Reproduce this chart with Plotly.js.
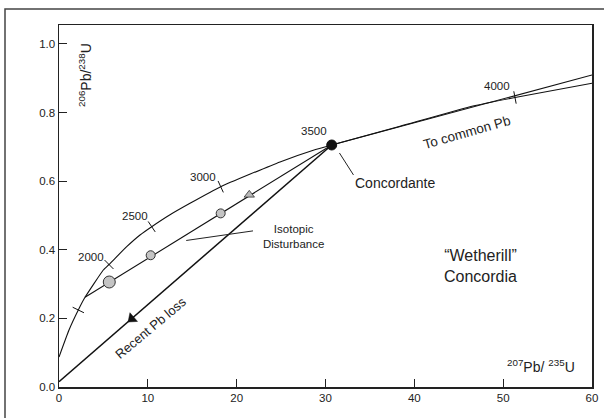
<!DOCTYPE html>
<html>
<head>
<meta charset="utf-8">
<script src="https://cdn.plot.ly/plotly-3.0.1.min.js"></script>
<style>html,body{margin:0;padding:0;background:#fff;}#chart{width:604px;height:418px;}</style>
</head>
<body>
<div id="chart"></div>
<script>
// Concordia curve (207Pb/235U, 206Pb/238U)
const concordiaX = [0, 1.126, 2.173, 2.927, 4.987, 5.629, 7.621, 9.119, 10.436, 12.496, 14.747, 18.203, 24.879, 28.628, 30.70, 38.39, 46.61, 51.33, 60];
const concordiaY = [0.0874, 0.1661, 0.2244, 0.2614, 0.341, 0.357, 0.4089, 0.443, 0.4672, 0.502, 0.5354, 0.5838, 0.656, 0.690, 0.7053, 0.7598, 0.819, 0.8438, 0.8852];

// Age ticks on concordia (Ma)
const tickAges = [1500, 2000, 2500, 3000, 4000];
const tickX = [2.173, 5.629, 10.436, 18.203, 51.33];
const tickY = [0.2244, 0.357, 0.4672, 0.5838, 0.8438];
const labelAges = ["2000", "2500", "3000", "3500", "4000"];
const labelX = [3.61, 8.51, 16.23, 28.75, 49.27];
const labelY = [0.379, 0.499, 0.612, 0.746, 0.878];

// Concordant point (3500 Ma)
const concordantX = [30.70];
const concordantY = [0.7053];

// Discordia (isotopic disturbance) line and samples
const discordiaX = [2.927, 30.70];
const discordiaY = [0.2614, 0.7053];
const samplesBigX = [5.66];
const samplesBigY = [0.306];
const samplesX = [10.32, 18.20];
const samplesY = [0.384, 0.506];
const disturbArrowX = [21.42];
const disturbArrowY = [0.560];

// Recent Pb loss line
const pbLossX = [0, 30.70];
const pbLossY = [0.0154, 0.7053];
const pbLossArrowX = [8.2];
const pbLossArrowY = [0.199];

// To common Pb line
const commonPbX = [30.70, 60];
const commonPbY = [0.7053, 0.9094];

const xRange = [0, 60];
const yRange = [0, 1.055];
const yTicks = [0, 0.2, 0.4, 0.6, 0.8, 1.0];
const xTicks = [0, 10, 20, 30, 40, 50, 60];

const M = {l: 59, r: 12, t: 25, b: 31};
const W = 604, H = 418;
const xs = (W - M.l - M.r) / (xRange[1] - xRange[0]);
const ys = (H - M.t - M.b) / (yRange[1] - yRange[0]);

// tick orientation perpendicular to curve (screen space)
const tickAngles = tickX.map(function (tx) {
  let i = 0, best = 1e9;
  concordiaX.forEach(function (v, k) { if (Math.abs(v - tx) < best) { best = Math.abs(v - tx); i = k; } });
  const a = Math.max(0, i - 1), b = Math.min(concordiaX.length - 1, i + 1);
  const dxp = (concordiaX[b] - concordiaX[a]) * xs;
  const dyp = (concordiaY[b] - concordiaY[a]) * ys;
  return -Math.atan2(dyp, dxp) * 180 / Math.PI;
});
const pbLossAngle = 270 - Math.atan2((pbLossY[1] - pbLossY[0]) * ys, (pbLossX[1] - pbLossX[0]) * xs) * 180 / Math.PI;

const FONT = "Liberation Sans, Arial, sans-serif";
const TXT = "#222";

const traces = [
  {x: concordiaX, y: concordiaY, mode: "lines", line: {color: "#111", width: 1.1, shape: "spline", smoothing: 0.4}},
  {x: commonPbX, y: commonPbY, mode: "lines", line: {color: "#111", width: 1.1}},
  {x: discordiaX, y: discordiaY, mode: "lines", line: {color: "#111", width: 1.1}},
  {x: pbLossX, y: pbLossY, mode: "lines", line: {color: "#111", width: 1.5}},
  {x: tickX, y: tickY, mode: "markers", text: tickAges.map(String),
   marker: {symbol: "line-ns-open", size: 9, angle: tickAngles, color: "#111", line: {color: "#111", width: 1}}},
  {x: samplesBigX, y: samplesBigY, mode: "markers",
   marker: {symbol: "circle", size: 12, color: "#c4c4c4", line: {color: "#333", width: 1}}},
  {x: samplesX, y: samplesY, mode: "markers",
   marker: {symbol: "circle", size: 9, color: "#c4c4c4", line: {color: "#333", width: 1}}},
  {x: disturbArrowX, y: disturbArrowY, mode: "markers",
   marker: {symbol: "triangle-up", size: 9, color: "#b8b8b8", line: {color: "#333", width: 0.8}}},
  {x: pbLossArrowX, y: pbLossArrowY, mode: "markers",
   marker: {symbol: "triangle-up", size: 10, angle: pbLossAngle, color: "#111", line: {color: "#111", width: 0.5}}},
  {x: concordantX, y: concordantY, mode: "markers",
   marker: {symbol: "circle", size: 10, color: "#111", line: {color: "#111", width: 1}}}
];

const annotations = [];
labelAges.forEach(function (t, k) {
  annotations.push({x: labelX[k], y: labelY[k], text: t, showarrow: false, font: {family: FONT, size: 11.5, color: TXT}});
});
annotations.push(
  {x: 33.11, y: 0.595, xanchor: "left", text: "Concordante", showarrow: false, font: {family: FONT, size: 14, color: TXT}},
  {x: 26.38, y: 0.440, text: "Isotopic<br>Disturbance", showarrow: false, font: {family: FONT, size: 11.5, color: TXT}},
  {x: 45.9, y: 0.741, text: "To common Pb", textangle: -16, showarrow: false, font: {family: FONT, size: 13.5, color: TXT}},
  {x: 10.4, y: 0.172, text: "Recent Pb loss", textangle: -40, showarrow: false, font: {family: FONT, size: 13, color: TXT}},
  {x: 47.46, y: 0.353, text: "\u201cWetherill\u201d<br>Concordia", showarrow: false, font: {family: FONT, size: 16, color: TXT}},
  {x: (85 - M.l) / xs, y: (H - M.b - 75) / ys, text: "<sup>206</sup>Pb/<sup>238</sup>U", textangle: -90, showarrow: false, font: {family: FONT, size: 14, color: TXT}},
  {x: (541 - M.l) / xs, y: (H - M.b - 366) / ys, text: "<sup>207</sup>Pb/ <sup>235</sup>U", showarrow: false, font: {family: FONT, size: 14, color: TXT}}
);

const layout = {
  width: W, height: H, margin: M,
  paper_bgcolor: "#fff", plot_bgcolor: "#fff",
  showlegend: false, hovermode: false,
  xaxis: {range: xRange, tickvals: xTicks, ticks: "inside", ticklen: 8, tickwidth: 1, tickcolor: "#222",
          showline: true, linecolor: "#222", linewidth: 1.5, mirror: true, showgrid: false, zeroline: false,
          tickfont: {family: FONT, size: 11.5, color: TXT}},
  yaxis: {range: yRange, tickvals: yTicks, tickformat: ".1f", ticks: "inside", ticklen: 8, tickwidth: 1, tickcolor: "#222",
          showline: true, linecolor: "#222", linewidth: 1.5, mirror: true, showgrid: false, zeroline: false,
          tickfont: {family: FONT, size: 11.5, color: TXT}},
  annotations: annotations,
  shapes: [
    {type: "rect", xref: "paper", yref: "paper", x0: (5 - M.l) / (W - M.l - M.r), x1: 1.2, y0: -0.3, y1: (H - M.b - 9) / (H - M.t - M.b),
     line: {color: "#444", width: 1.5}, fillcolor: "rgba(0,0,0,0)"},
    {type: "line", xref: "x", yref: "y", x0: 31.57, y0: 0.682, x1: 33.15, y1: 0.618, line: {color: "#222", width: 1}},
    {type: "line", xref: "x", yref: "y", x0: 14.32, y0: 0.427, x1: 21.84, y1: 0.455, line: {color: "#222", width: 1}}
  ]
};

Plotly.newPlot("chart", traces, layout, {staticPlot: true, displayModeBar: false});
</script>
</body>
</html>
